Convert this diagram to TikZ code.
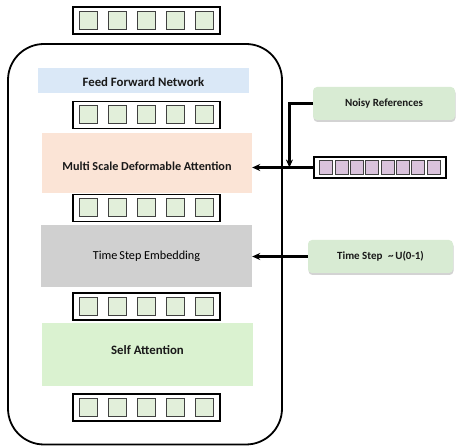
\documentclass[tikz,border=0pt]{standalone}
\usepackage{fontspec}
\setmainfont{Carlito}
\usetikzlibrary{positioning}
\usetikzlibrary{shapes,arrows.meta,shadows}

\definecolor{ffnblue}{HTML}{DAE8F7}
\definecolor{msdapeach}{HTML}{FBE4D6}
\definecolor{tsegray}{HTML}{D0D0D0}
\definecolor{sagreen}{HTML}{DAF2D0}
\definecolor{inputgreen}{HTML}{D8EBD3}
\definecolor{tokengreen}{HTML}{E2EFDA}
\definecolor{tokenpurple}{HTML}{DAC3DC}

\begin{document}
\begin{tikzpicture}[x=1pt,y=-1pt,
                    tokenrow/.style={rectangle,
                                     draw=black, fill=white,
                                     line width=1.1pt,
                                     inner sep=0mm,
                                     minimum width=147pt,
                                     minimum height=27pt
                                    },
                    tokencell/.style={rectangle,
                                      draw=black!75, fill=tokengreen,
                                      line width=1pt,
                                      inner sep=0mm,
                                      minimum size=18pt
                                     },
                    refcell/.style={tokencell, fill=tokenpurple,
                                    minimum width=13pt, minimum height=14pt
                                   },
                    layerblock/.style={rectangle,
                                       inner sep=0mm,
                                       minimum width=211pt,
                                       text=black
                                      },
                    inputbox/.style={rectangle, rounded corners=4pt,
                                     fill=inputgreen,
                                     drop shadow={shadow xshift=0.5pt, shadow yshift=-2pt, opacity=0.35},
                                     minimum height=33pt,
                                     font=\fontsize{11}{13}\selectfont\bfseries,
                                     text=black!90
                                    },
                    blocklabel/.style={font=\fontsize{12.8}{15}\selectfont\bfseries, text=black!90},
                    feedline/.style={
                                    line width=2.2pt,
                                    draw=black,
                                    -{Stealth[length=8pt,width=7pt]}
                                    }
                   ]
  \useasboundingbox (0,0) rectangle (456,446);

  % decoder layer frame
  \draw[line width=1.8pt, rounded corners=36pt] (8,44) rectangle (282,444.5);

  % layers, bottom to top inside the frame
  \node[layerblock, fill=ffnblue, minimum height=25pt,
        label={[yshift=-2pt, blocklabel]center:Feed Forward Network}] (ffn) at (143.5,80.5) {};
  \node[layerblock, fill=msdapeach, minimum width=210pt, minimum height=60pt,
        label={[yshift=-3pt, blocklabel, font=\fontsize{12.2}{15}\selectfont\bfseries]center:Multi Scale Deformable Attention}] (msda) at (147,163) {};
  \node[layerblock, fill=tsegray, minimum height=62pt,
        font=\fontsize{12.2}{14}\selectfont] (tse) at (146.5,256) {Time\,Step Embedding};
  \node[layerblock, fill=sagreen, minimum height=63pt,
        label={[yshift=4pt, blocklabel]center:Self Attention}] (sa) at (147.5,354.5) {};

  % query token rows between the layers
  \foreach \rowname/\y in {out/20.5, ffnin/115, msdain/208, tsein/306.5, sain/407.5} {
    \node[tokenrow] (\rowname) at (146.5,\y) {};
    \foreach \i in {-2,...,2}
      \node[tokencell] (\rowname-\i) at ([xshift=\i*29pt]\rowname.center) {};
  }

  % reference points
  \node[tokenrow, minimum width=132pt, minimum height=21pt] (refs) at (380,167.5) {};
  \foreach \i in {0,...,7}
    \node[refcell] (refs-\i) at ([xshift={(\i-3.5)*15.36pt}]refs.center) {};

  % conditioning inputs
  \node[inputbox, minimum width=142pt] (noisy) at (384,103.5) {Noisy References};
  \node[inputbox, minimum width=145pt] (time) at (380.5,256.5) {Time Step\enspace\textasciitilde\,U(0-1)};

  \coordinate (merge) at ([xshift=-24pt]refs.west);

  \draw[feedline] (refs.west) -- (refs.west -| msda.east);
  \draw[feedline] (noisy.west) -| (merge);
  \draw[feedline] (time.west) -- (time.west -| tse.east);

  \end{tikzpicture}
\end{document}
